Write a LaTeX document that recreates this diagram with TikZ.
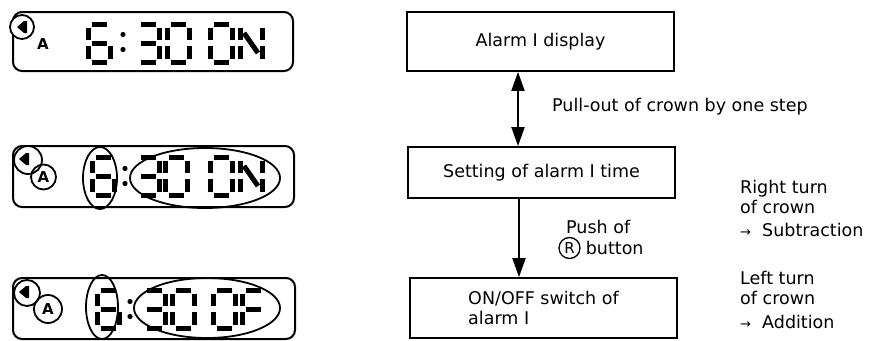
\documentclass[tikz,border=0pt]{standalone}
\usepackage{fontspec}
\setmainfont{DejaVu Sans}
\usetikzlibrary{arrows.meta}

\newcommand{\sega}{\draw[lcd] (3.5,0) -- (18.5,0);}
\newcommand{\segb}{\draw[lcd] (22,3.5) -- (22,16);}
\newcommand{\segc}{\draw[lcd] (22,22) -- (22,34.5);}
\newcommand{\segd}{\draw[lcd] (3.5,38) -- (18.5,38);}
\newcommand{\sege}{\draw[lcd] (0,22) -- (0,34.5);}
\newcommand{\segf}{\draw[lcd] (0,3.5) -- (0,16);}
\newcommand{\segg}{\draw[lcd] (3.5,19) -- (18.5,19);}
\newcommand{\segn}{\draw[lcd] (4,9) -- (18,29);}
\newcommand{\lcddigit}[2]{\begin{scope}[shift={(#1)}] #2 \end{scope}}
\newcommand{\digitsix}{\sega\segc\segd\sege\segf\segg}
\newcommand{\digitthree}{\sega\segb\segc\segd\segg}
\newcommand{\digitzero}{\sega\segb\segc\segd\sege\segf}
\newcommand{\letterN}{\segb\segc\sege\segf\segn}
\newcommand{\letterF}{\sega\sege\segf\segg}
\newcommand{\speaker}[1]{\fill (#1) ++(-6,0) -- ++(7,-6) -- ++(3,0) -- ++(0,12) -- ++(-3,0) -- cycle;}
\newcommand{\colondots}[1]{\fill (#1) ++(0,-7.5) circle (2.6) ++(0,15) circle (2.6);}

\begin{document}
\begin{tikzpicture}[x=1pt,y=-1pt,
  lcd/.style={line width=5pt},
  lcdframe/.style={line width=2pt,rounded corners=9pt},
  ring/.style={line width=1.8pt},
  alarmA/.style={font=\fontsize{15}{15}\selectfont\bfseries,inner sep=0pt},
  flowbox/.style={draw,line width=1.8pt,minimum width=267pt,inner sep=0pt,font=\fontsize{17.5}{20}\selectfont},
  lbl/.style={anchor=west,inner sep=0pt,align=left,font=\fontsize{17.5}{20}\selectfont},
  flowarrow/.style={line width=2pt,-{Triangle[length=19pt,width=13pt]}},
  dblarrow/.style={line width=2pt,{Triangle[length=19pt,width=13pt]}-{Triangle[length=19pt,width=13pt]}}]

 \useasboundingbox (0,0) rectangle (877,340);

 \draw[lcdframe] (13,12) rectangle (293,71);
 \filldraw[ring,fill=white] (22,27) circle (12);
 \speaker{23,27}
 \node[alarmA] (alarmone) at (43,44) {A};
 \lcddigit{88,24}{\digitsix}
 \colondots{123,42}
 \lcddigit{137,24}{\digitthree}
 \lcddigit{167,24}{\digitzero}
 \lcddigit{210,24}{\digitzero}
 \lcddigit{240,24}{\letterN}

 \draw[lcdframe] (13,146) rectangle (294,207);
 \filldraw[ring,fill=white] (28,160) circle (14);
 \speaker{25,159}
 \draw[ring] (43.5,177) circle (12.5);
 \node[alarmA] (alarmtwo) at (43.5,177) {A};
 \lcddigit{92,157}{\digitsix}
 \colondots{125,176}
 \lcddigit{137,157}{\digitthree}
 \lcddigit{165,157}{\digitzero}
 \lcddigit{210,157}{\digitzero}
 \lcddigit{240,157}{\letterN}
 \draw[ring] (100,178) ellipse [x radius=17,y radius=31];
 \draw[ring] (205,178) ellipse [x radius=75,y radius=30];

 \draw[lcdframe] (13,278) rectangle (295,339);
 \filldraw[ring,fill=white] (27,293) circle (13);
 \speaker{25,292}
 \draw[ring] (48,309) circle (14);
 \node[alarmA] (alarmthree) at (48,309) {A};
 \lcddigit{97,290}{\digitsix}
 \colondots{130,309}
 \lcddigit{143,290}{\digitthree}
 \lcddigit{172,290}{\digitzero}
 \lcddigit{213,290}{\digitzero}
 \lcddigit{242,290}{\letterF}
 \draw[ring] (102,307) ellipse [x radius=16,y radius=32];
 \draw[ring] (207,308) ellipse [x radius=73,y radius=30];

 \node[flowbox,minimum height=59pt] (display) at (540.5,41.5) {Alarm I display};
 \node[flowbox,minimum height=51pt] (setting) at (541.5,172.5) {Setting of alarm I time};
 \node[flowbox,minimum height=60pt,align=left] (onoff) at (543.5,308) {ON/OFF switch of\\alarm I};

 \draw[dblarrow] ([xshift=-22.5pt]display.south) -- ([xshift=-22.5pt]display.south |- setting.north);
 \draw[flowarrow] ([xshift=-22.5pt]setting.south) -- ([xshift=-22.5pt]setting.south |- onoff.north);

 \node[lbl] (pullout) at (552,107) {Pull-out of crown by one step};
 \node[lbl] (pushof) at (566,227) {Push of};
 \node[draw,circle,line width=1.3pt,inner sep=0pt,minimum size=21pt,font=\fontsize{15}{15}\selectfont] (rbtn) at (569.5,248) {R};
 \node[lbl] (button) at ([xshift=5pt]rbtn.east) {button};

 \node[lbl] (rightturn) at (740,197) {Right turn\\of crown};
 \node[lbl] (subtract) at (740,230) {{\fontsize{13}{13}\selectfont →}\ \ Subtraction};
 \node[lbl] (leftturn) at (740,287.5) {Left turn\\of crown};
 \node[lbl] (addition) at (740,322) {{\fontsize{13}{13}\selectfont →}\ \ Addition};

\end{tikzpicture}
\end{document}
